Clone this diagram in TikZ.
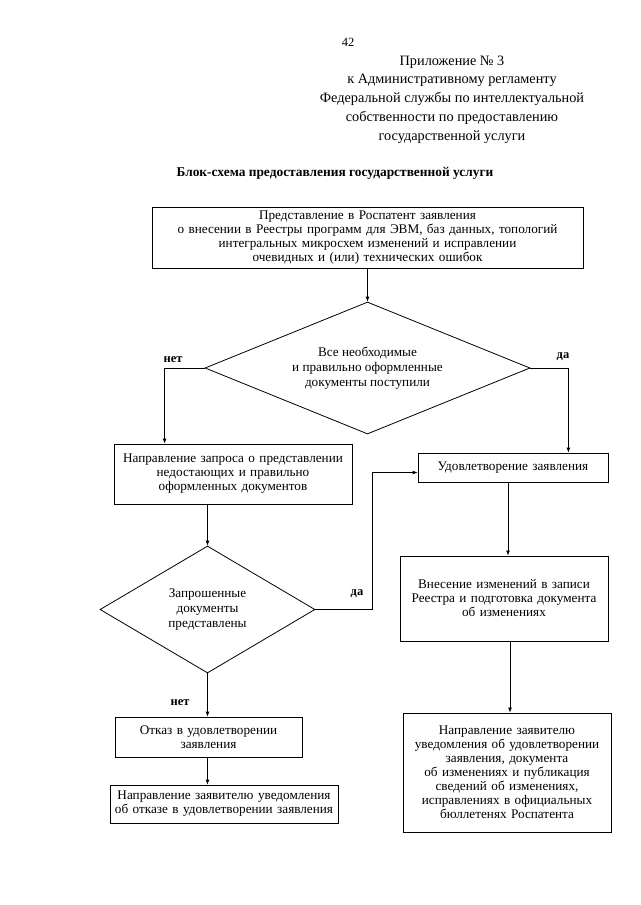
\documentclass[tikz,border=0pt]{standalone}
\usepackage{fontspec}
\setmainfont{Liberation Serif}
\usepackage{tikz}
\usetikzlibrary{arrows, positioning, shapes}
\usetikzlibrary{arrows.meta}

\begin{document}
\begin{tikzpicture}[x=1pt, y=-1pt,
  blok/.style={draw, rectangle, inner sep=0pt, align=center, line width=0.8pt, font=\fontsize{13.2}{14}\selectfont},
  romb/.style={draw, diamond, inner sep=0pt, align=center, line width=0.8pt, font=\fontsize{13.2}{15}\selectfont},
  strelka/.style={line width=0.8pt, -{Latex[length=5pt,width=4pt]}},
  metka/.style={font=\fontsize{12.5}{14}\selectfont\bfseries}]

\path[use as bounding box] (0,0) rectangle (640,905);

% header
\node (nomer) at (348,42) {\fontsize{12.5}{14}\selectfont 42};
\node[align=center, font=\fontsize{14.3}{18.8}\selectfont] (prilozh) at (452,99.5) {Приложение № 3\\к Административному регламенту\\Федеральной службы по интеллектуальной\\собственности по предоставлению\\государственной услуги};
\node[font=\fontsize{13.4}{15}\selectfont\bfseries] (zagolovok) at (335,173) {Блок-схема предоставления государственной услуги};

% blocks
\node[blok, text width=431pt, minimum height=61pt] (b1) at (367.5,237.5) {Представление в Роспатент заявления\\о внесении в Реестры программ для ЭВМ, баз данных, топологий\\интегральных микросхем изменений и исправлении\\очевидных и (или) технических ошибок};
\node[romb, aspect=2.4, minimum width=325pt, minimum height=132pt] (d1) at (367.5,368) {Все необходимые\\и правильно оформленные\\документы поступили};
\node[blok, text width=238pt, minimum height=60pt] (b2) at (233,474) {Направление запроса о представлении\\недостающих и правильно\\оформленных документов};
\node[blok, text width=190pt, minimum height=29pt] (b3) at (513,467.5) {Удовлетворение заявления};
\node[romb, aspect=1.7, minimum width=215pt, minimum height=127pt] (d2) at (207.5,609.5) {Запрошенные\\документы\\представлены};
\node[blok, text width=208pt, minimum height=85pt] (b4) at (504,598.5) {Внесение изменений в записи\\Реестра и подготовка документа\\об изменениях};
\node[blok, text width=187pt, minimum height=40pt] (b5) at (208.5,737) {Отказ в удовлетворении\\заявления};
\node[blok, text width=228pt, minimum height=38pt] (b6) at (224,804) {Направление заявителю уведомления\\об отказе в удовлетворении заявления};
\node[blok, text width=208pt, minimum height=119pt] (b7) at (507,772.5) {Направление заявителю\\уведомления об удовлетворении\\заявления, документа\\об изменениях и публикация\\сведений об изменениях,\\исправлениях в официальных\\бюллетенях Роспатента};

% labels
\node[metka] (net1) at (173,360) {нет};
\node[metka] (da1) at (563,357) {да};
\node[metka] (da2) at (357,594) {да};
\node[metka] (net2) at (180,703) {нет};

% connectors
\draw[strelka] (b1.south) -- (d1.north);
\draw[strelka] (d1.west) -| ([xshift=51pt]b2.north west);
\draw[strelka] (d1.east) -| ([xshift=-40pt]b3.north east);
\draw[strelka] (b2.south -| d2.north) -- (d2.north);
\draw[strelka] (d2.east) -- ++(57,0) |- ([yshift=-5pt]b3.west);
\draw[strelka] (b3.south -| 508,0) -- (b4.north -| 508,0);
\draw[strelka] (b4.south -| 510,0) -- (b7.north -| 510,0);
\draw[strelka] (d2.south) -- (d2.south |- b5.north);
\draw[strelka] (b5.south -| d2.south) -- (b6.north -| d2.south);

\end{tikzpicture}
\end{document}
